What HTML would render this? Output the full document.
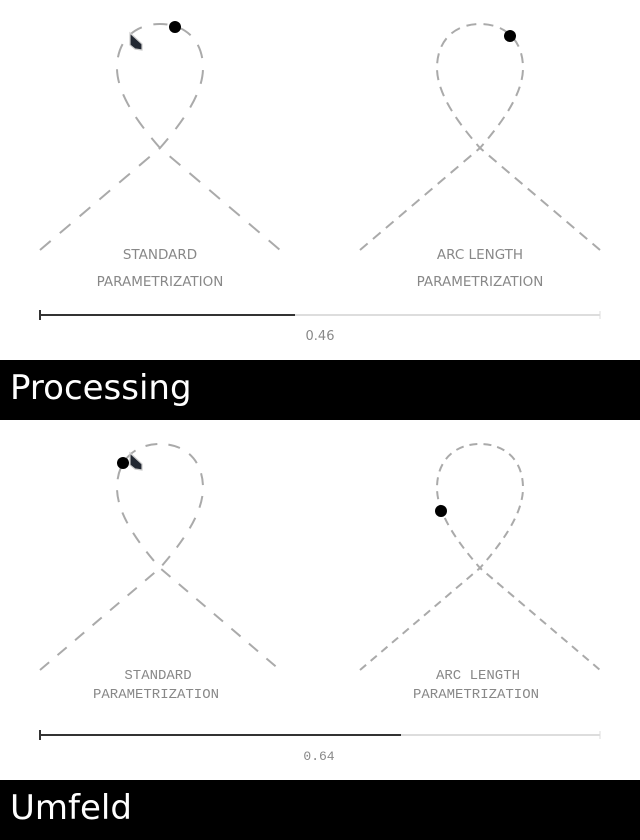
<!DOCTYPE html>
<html><head><style>
html,body{margin:0;padding:0;background:#fff;width:640px;height:840px;overflow:hidden}
svg{display:block}
</style></head><body>
<svg width="640" height="840" viewBox="0 0 640 840" xmlns="http://www.w3.org/2000/svg">
<defs>
<path id="c" d="M40,250 L160,148 C180,125 203,95 203,68 C203,40 185,24 160,24 C135,24 117,40 117,68 C117,95 140,125 160,148 L280,250" fill="none"/>
</defs>
<g stroke="#aaa" stroke-width="2" fill="none">
<use href="#c" stroke-dasharray="14 12"/>
<use href="#c" transform="translate(320,0)" stroke-dasharray="10 7"/>
<use href="#c" transform="translate(0,420)" stroke-dasharray="12 11"/>
<use href="#c" transform="translate(320,420)" stroke-dasharray="8 6"/>
</g>
<circle cx="175" cy="27" r="6" fill="#000"/>
<circle cx="510" cy="36" r="6" fill="#000"/>
<circle cx="123" cy="463" r="6" fill="#000"/>
<circle cx="441" cy="511" r="6" fill="#000"/>
<polygon points="130,33 142,44 142,50 135,49 130,45" fill="#222832" stroke="#ccc" stroke-width="1.2"/>
<polygon points="130,453 142,464 142,470 135,469 130,465" fill="#222832" stroke="#ccc" stroke-width="1.2"/>
<g font-family="DejaVu Sans, sans-serif" font-size="13.5" fill="#888" text-anchor="middle">
<text x="160" y="259">STANDARD</text>
<text x="160" y="286">PARAMETRIZATION</text>
<text x="480" y="259">ARC LENGTH</text>
<text x="480" y="286">PARAMETRIZATION</text>
<text x="320" y="340" font-size="13">0.46</text>
</g>
<g font-family="Liberation Mono, monospace" font-size="14" fill="#888" text-anchor="middle">
<text x="158" y="679">STANDARD</text>
<text x="156" y="698">PARAMETRIZATION</text>
<text x="478" y="679">ARC LENGTH</text>
<text x="476" y="698">PARAMETRIZATION</text>
<text x="319" y="760" font-size="13">0.64</text>
</g>
<line x1="40" y1="315" x2="600" y2="315" stroke="#ddd" stroke-width="2"/>
<line x1="40" y1="315" x2="295" y2="315" stroke="#333" stroke-width="2"/>
<line x1="40" y1="310" x2="40" y2="320" stroke="#333" stroke-width="2"/>
<line x1="600" y1="311" x2="600" y2="319" stroke="#ddd" stroke-width="1"/>
<line x1="40" y1="735" x2="600" y2="735" stroke="#ddd" stroke-width="2"/>
<line x1="40" y1="735" x2="401" y2="735" stroke="#333" stroke-width="2"/>
<line x1="40" y1="730" x2="40" y2="740" stroke="#333" stroke-width="2"/>
<line x1="600" y1="731" x2="600" y2="739" stroke="#ddd" stroke-width="1"/>
<rect x="0" y="360" width="640" height="60" fill="#000"/>
<rect x="0" y="780" width="640" height="60" fill="#000"/>
<g font-family="DejaVu Sans, Liberation Sans, sans-serif" font-size="34" fill="#fff">
<text x="10" y="399">Processing</text>
<text x="10" y="819">Umfeld</text>
</g>
</svg>
</body></html>
